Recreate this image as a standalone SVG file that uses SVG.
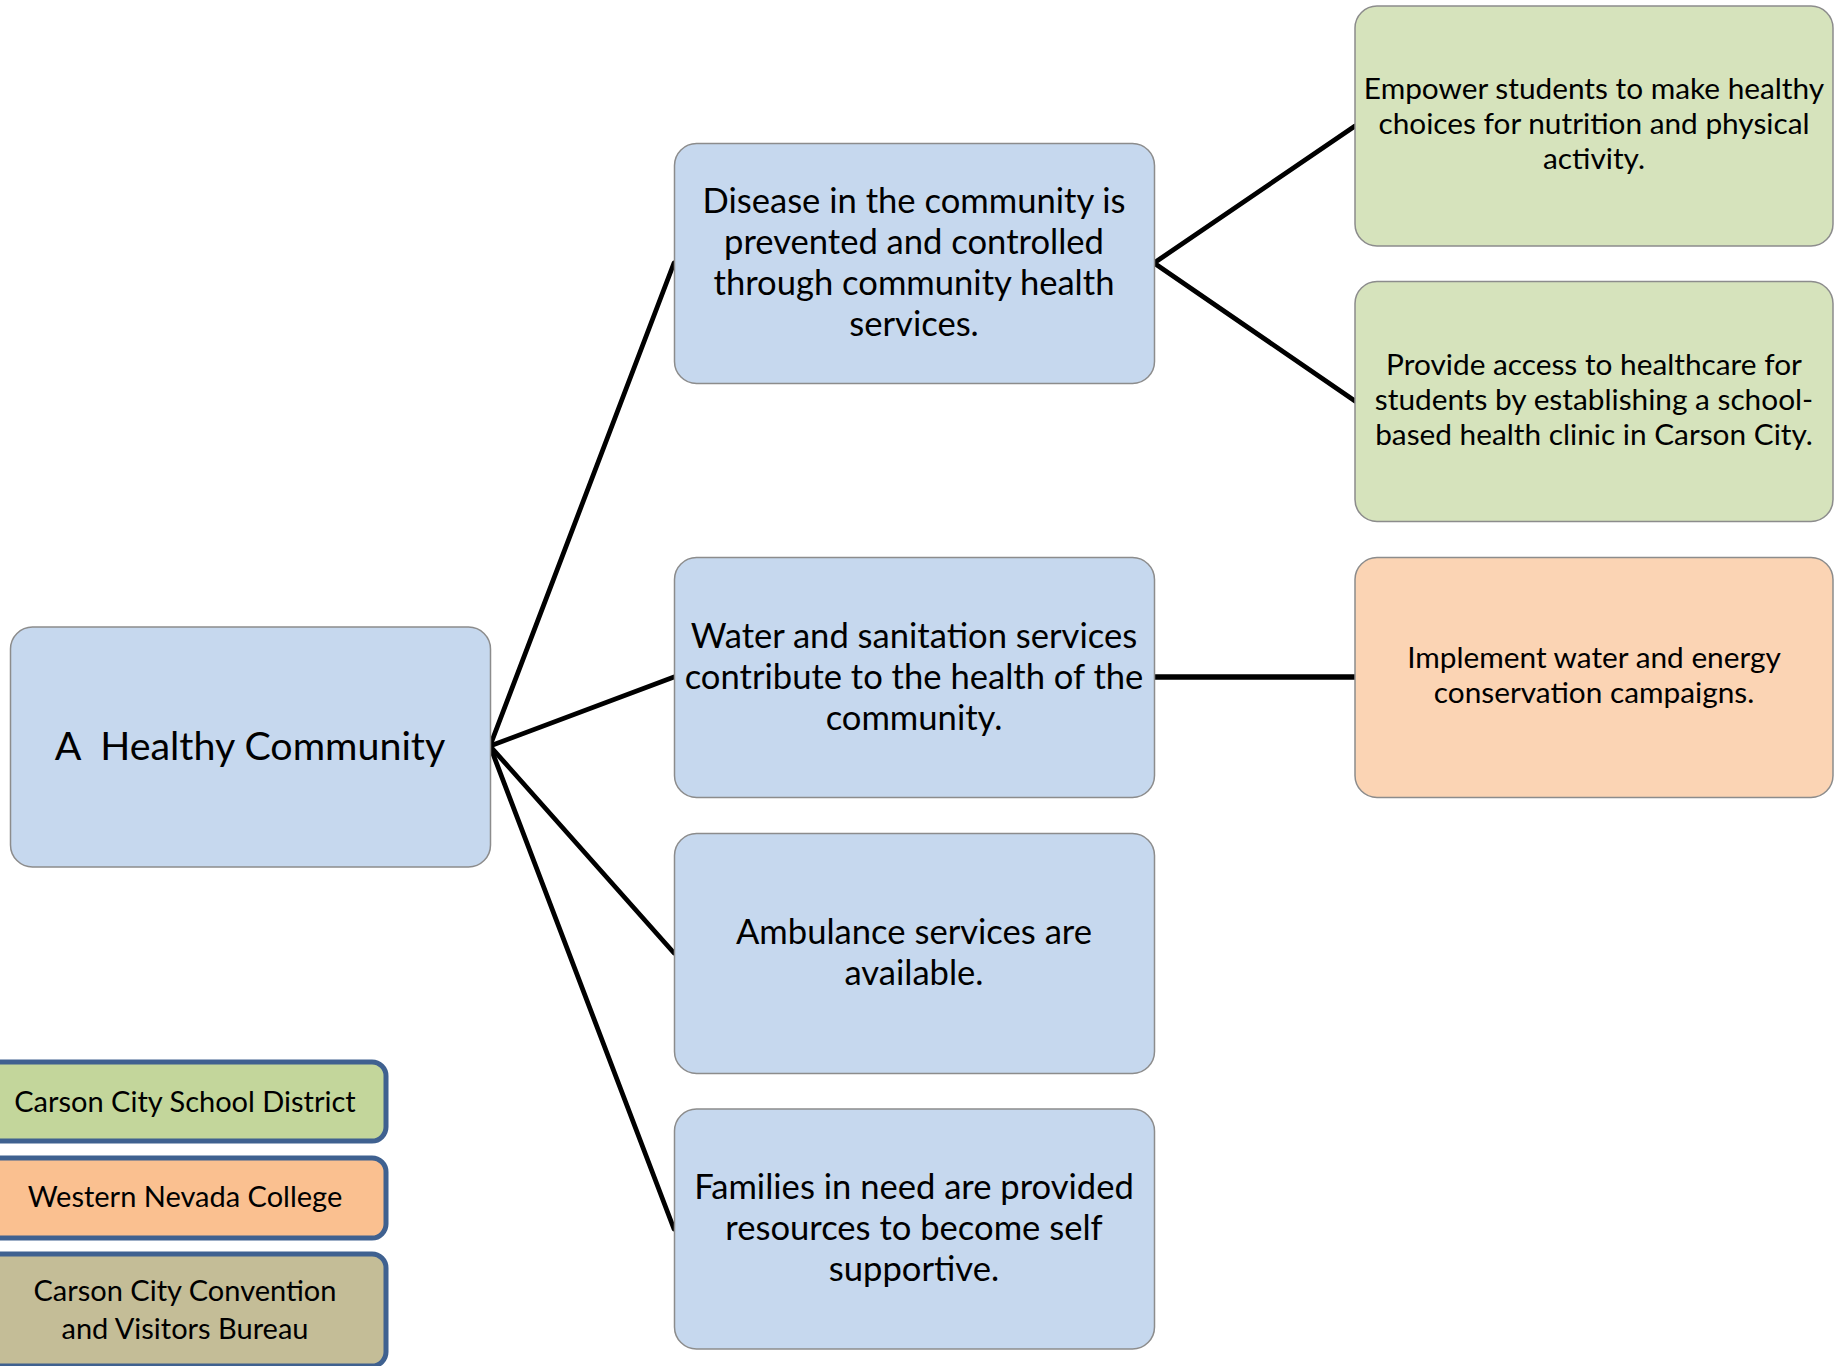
<svg xmlns="http://www.w3.org/2000/svg" width="1839" height="1366" viewBox="0 0 1839 1366">
<style>
text{font-family:Lato,"Open Sans","Liberation Sans",sans-serif;fill:#000;text-anchor:middle}
.box{stroke:#8c8c8c;stroke-width:1.5}
.blue{fill:#c6d8ee}
.green{fill:#d6e3bc}
.peach{fill:#fbd4b4}
.leg{stroke:#3f6190;stroke-width:5}
.mid{font-size:34.6px}
.rt{font-size:29.8px}
.lg{font-size:29px}
.conn line{stroke:#000;stroke-width:4.8;stroke-linecap:round}
</style>
<rect width="1839" height="1366" fill="#fff"/>
<g class="conn" id="connectors">
<line x1="490" y1="746" x2="674" y2="263"/>
<line x1="490" y1="746" x2="674" y2="677"/>
<line x1="490" y1="746" x2="674" y2="953"/>
<line x1="490" y1="746" x2="674" y2="1229"/>
<line x1="1154" y1="263" x2="1355" y2="126"/>
<line x1="1154" y1="263" x2="1355" y2="401"/>
<line x1="1154" y1="677" x2="1355" y2="677" style="stroke-width:5.5"/>
</g>
<g id="root">
<rect class="box blue" x="10.5" y="627" width="480" height="240" rx="22"/>
<text x="250" y="760" style="font-size:39.4px" xml:space="preserve">A  Healthy Community</text>
</g>
<g id="m1">
<rect class="box blue" x="674.5" y="143.5" width="480" height="240" rx="22"/>
<text class="mid" x="914" y="213">Disease in the community is</text>
<text class="mid" x="914" y="254">prevented and controlled</text>
<text class="mid" x="914" y="295">through community health</text>
<text class="mid" x="914" y="336">services.</text>
</g>
<g id="m2">
<rect class="box blue" x="674.5" y="557.5" width="480" height="240" rx="22"/>
<text class="mid" x="914" y="648">Water and sanitation services</text>
<text class="mid" x="914" y="689">contribute to the health of the</text>
<text class="mid" x="914" y="730">community.</text>
</g>
<g id="m3">
<rect class="box blue" x="674.5" y="833.5" width="480" height="240" rx="22"/>
<text class="mid" x="914" y="944">Ambulance services are</text>
<text class="mid" x="914" y="985">available.</text>
</g>
<g id="m4">
<rect class="box blue" x="674.5" y="1109" width="480" height="240" rx="22"/>
<text class="mid" x="914" y="1199">Families in need are provided</text>
<text class="mid" x="914" y="1240">resources to become self</text>
<text class="mid" x="914" y="1281">supportive.</text>
</g>
<g id="r1">
<rect class="box green" x="1355" y="6" width="478" height="240" rx="22"/>
<text class="rt" x="1594" y="99">Empower students to make healthy</text>
<text class="rt" x="1594" y="134">choices for nutrition and physical</text>
<text class="rt" x="1594" y="169">activity.</text>
</g>
<g id="r2">
<rect class="box green" x="1355" y="281.5" width="478" height="240" rx="22"/>
<text class="rt" x="1594" y="375">Provide access to healthcare for</text>
<text class="rt" x="1594" y="410">students by establishing a school-</text>
<text class="rt" x="1594" y="445">based health clinic in Carson City.</text>
</g>
<g id="r3">
<rect class="box peach" x="1355" y="557.5" width="478" height="240" rx="22"/>
<text class="rt" x="1594" y="668">Implement water and energy</text>
<text class="rt" x="1594" y="703">conservation campaigns.</text>
</g>
<g id="legend1">
<rect class="leg" x="-20" y="1062" width="406" height="79" rx="14" fill="#c3d69b"/>
<text class="lg" x="185" y="1112">Carson City School District</text>
</g>
<g id="legend2">
<rect class="leg" x="-20" y="1158" width="406" height="80" rx="14" fill="#fac090"/>
<text class="lg" x="185" y="1207">Western Nevada College</text>
</g>
<g id="legend3">
<rect class="leg" x="-20" y="1254" width="406" height="112" rx="14" fill="#c4bd97"/>
<text class="lg" x="185" y="1301">Carson City Convention</text>
<text class="lg" x="185" y="1339">and Visitors Bureau</text>
</g>
</svg>
